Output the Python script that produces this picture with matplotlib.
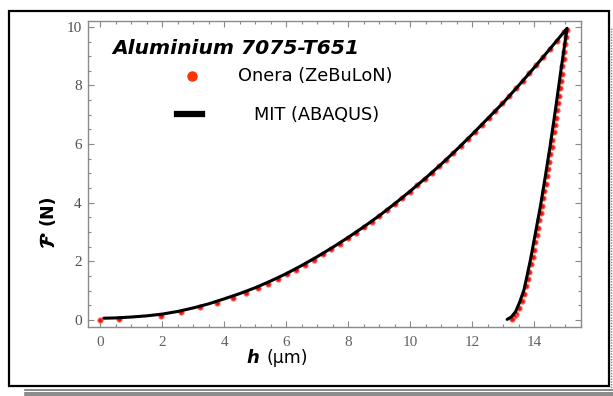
import numpy as np
import matplotlib.pyplot as plt
import matplotlib.patheffects as pe
from matplotlib.patches import Rectangle
from matplotlib.lines import Line2D

# Onera (ZeBuLoN) points, loading branch
onera_load_h = [0.0, 0.62, 1.95, 2.62, 3.21, 3.78, 4.27, 4.69, 5.09, 5.42, 5.73,
                6.03, 6.33, 6.62, 6.9, 7.18, 7.45, 7.72, 7.98, 8.24, 8.5, 8.75,
                9.0, 9.25, 9.5, 9.74, 9.98, 10.22, 10.46, 10.7, 10.93, 11.16,
                11.39, 11.62, 11.85, 12.08, 12.3, 12.52, 12.74, 12.96, 13.18,
                13.4, 13.62, 13.84, 14.06, 14.28, 14.5, 14.72, 14.94]
onera_load_F = [0.0, 0.02, 0.15, 0.28, 0.43, 0.58, 0.75, 0.92, 1.08, 1.24, 1.39,
                1.56, 1.72, 1.89, 2.06, 2.24, 2.41, 2.60, 2.78, 2.97, 3.16, 3.35,
                3.55, 3.75, 3.96, 4.17, 4.38, 4.59, 4.81, 5.03, 5.25, 5.47,
                5.70, 5.93, 6.17, 6.41, 6.65, 6.89, 7.14, 7.39, 7.64,
                7.90, 8.16, 8.43, 8.70, 8.97, 9.25, 9.53, 9.82]

# Onera points, unloading branch
onera_unl_h = [15.05, 15.03, 14.99, 14.96, 14.94, 14.90, 14.88, 14.84, 14.81, 14.78,
               14.75, 14.72, 14.69, 14.65, 14.62, 14.58, 14.55, 14.51, 14.47, 14.44,
               14.40, 14.36, 14.32, 14.28, 14.25, 14.20, 14.16, 14.11, 14.07, 14.03,
               13.98, 13.94, 13.89, 13.84, 13.79, 13.74, 13.67, 13.59, 13.50, 13.39,
               13.33, 13.28]
onera_unl_F = [9.9, 9.65, 9.4, 9.15, 8.9, 8.65, 8.4, 8.15, 7.9, 7.65,
               7.4, 7.15, 6.9, 6.65, 6.4, 6.15, 5.9, 5.65, 5.4, 5.15,
               4.9, 4.65, 4.4, 4.15, 3.9, 3.65, 3.4, 3.15, 2.9, 2.65,
               2.4, 2.15, 1.9, 1.65, 1.4, 1.15, 0.9, 0.65, 0.42, 0.22,
               0.12, 0.05]

# MIT (ABAQUS) curve, loading then unloading
mit_h = [0.12, 0.5, 1.0, 1.5, 2.0, 2.5, 3.0, 3.5, 4.0, 4.5, 5.0, 5.5, 6.0, 6.5,
         7.0, 7.5, 8.0, 8.5, 9.0, 9.5, 10.0, 10.5, 11.0, 11.5, 12.0, 12.5, 13.0,
         13.5, 14.0, 14.5, 15.05,
         14.85, 14.68, 14.5, 14.35, 14.19, 14.03, 13.87, 13.76, 13.66,
         13.52, 13.39, 13.25, 13.12]
mit_F = [0.06, 0.07, 0.10, 0.14, 0.20, 0.29, 0.41, 0.55, 0.72, 0.90, 1.10, 1.33,
         1.58, 1.86, 2.16, 2.48, 2.82, 3.18, 3.56, 3.97, 4.40, 4.85, 5.32, 5.82,
         6.34, 6.88, 7.42, 8.01, 8.62, 9.25, 9.95,
         8.5, 7.2, 5.9, 4.9, 3.87, 2.96, 2.05, 1.5, 1.02,
         0.6, 0.28, 0.1, 0.02]

xticks = [0, 2, 4, 6, 8, 10, 12, 14]
yticks = [0, 2, 4, 6, 8, 10]

W, H = 613, 396
fig = plt.figure(figsize=(W / 100, H / 100), dpi=100)
ax = fig.add_axes([88 / W, 1 - 327 / H, 493 / W, 306 / H])

red = '#f01508'
for hh, ff in [(onera_load_h, onera_load_F), (onera_unl_h, onera_unl_F)]:
    ax.plot(hh, ff, 'o', color=red, ms=3.8, mec='#ff7070', mew=0.7, zorder=2)
ax.plot(mit_h, mit_F, '-', color='black', lw=2.2, solid_capstyle='round',
        solid_joinstyle='round', zorder=3)

ax.set_xlim(-0.39, 15.5)
ax.set_ylim(-0.24, 10.2)
ax.set_xticks(xticks)
ax.set_yticks(yticks)
ax.set_xticks(np.arange(0, 15.6, 0.5), minor=True)
ax.set_yticks(np.arange(0, 10.1, 0.5), minor=True)
ax.tick_params(which='both', direction='in', top=True, right=True, color='#888888', width=0.8)
ax.tick_params(which='major', length=4)
ax.tick_params(which='minor', length=2.5)
ax.tick_params(axis='y', pad=4.5, labelsize=11, labelcolor='#505050')
ax.tick_params(axis='x', pad=6.5, labelsize=11, labelcolor='#606060')
for lab in ax.get_xticklabels() + ax.get_yticklabels():
    lab.set_fontfamily('Liberation Serif')
for s in ax.spines.values():
    s.set_color('#8a8a8a')
    s.set_linewidth(1.0)

# title and legend keys
ax.text(0.0487, 0.910, 'Aluminium 7075-T651', transform=ax.transAxes, ha='left', va='center',
        fontsize=14.6, fontweight='bold', fontstyle='italic', family='DejaVu Sans')
ax.add_line(Line2D([0.211], [0.820], marker='o', color='#ff3300', ms=6.5, ls='none',
                   transform=ax.transAxes))
ax.text(0.304, 0.820, 'Onera (ZeBuLoN)', transform=ax.transAxes, ha='left', va='center',
        fontsize=12.8, family='DejaVu Sans')
ax.add_line(Line2D([0.1805, 0.2312], [0.696, 0.696], color='black', lw=4.5,
                   transform=ax.transAxes))
ax.text(0.3367, 0.693, 'MIT (ABAQUS)', transform=ax.transAxes, ha='left', va='center',
        fontsize=12.8, family='DejaVu Sans')

# axis labels (symbol and unit as separate pieces)
fig.text(48 / W, 1 - 240 / H, r'$\mathcal{F}$', rotation=90, ha='center', va='center',
         fontsize=14, path_effects=[pe.withStroke(linewidth=1.0, foreground='black')])
fig.text(48 / W, 1 - 210 / H, '(N)', rotation=90, ha='center', va='center',
         fontsize=12.5, fontweight='bold', family='DejaVu Sans')
fig.text(259 / W, 1 - 358 / H, 'h', ha='right', va='center', fontsize=13,
         fontweight='bold', fontstyle='italic', family='DejaVu Sans')
fig.text(266 / W, 1 - 358 / H, '(μm)', ha='left', va='center', fontsize=12.5,
         family='DejaVu Sans')

# outer frame with shadow stripes
fig.patches.append(Rectangle((9 / W, 1 - 386 / H), 600 / W, 375 / H, transform=fig.transFigure,
                             fill=False, ec='black', lw=1.6))
for yy in [390, 392.7, 395.3]:
    fig.lines.append(Line2D([25 / W, 1], [1 - yy / H] * 2, transform=fig.transFigure,
                            color='#777777', lw=1.2))
for xx in [611, 612.7]:
    fig.lines.append(Line2D([xx / W] * 2, [0, 1 - 28 / H], transform=fig.transFigure,
                            color='#888888', lw=1.0, ls=(0, (1, 1))))

fig.savefig('out.png', dpi=100)
